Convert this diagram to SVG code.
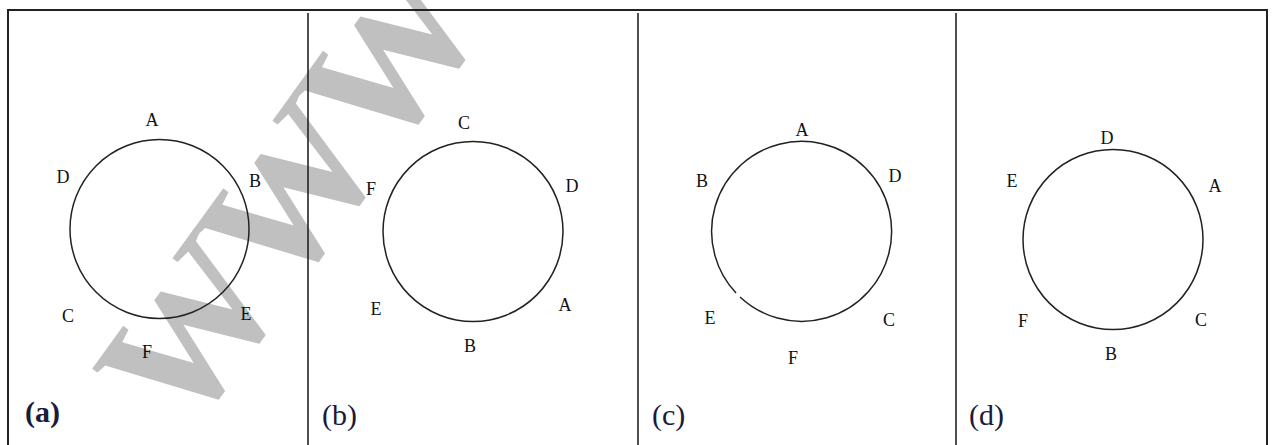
<svg xmlns="http://www.w3.org/2000/svg" width="1275" height="445" viewBox="0 0 1275 445">
<style>
.frame{fill:none;stroke:#222;stroke-width:2}
.div{stroke:#222;stroke-width:1.6}
.ring{fill:none;stroke:#222;stroke-width:1.5}
.lbl{font-family:"Liberation Serif","Times New Roman",serif;font-size:18px;fill:#111;text-anchor:middle}
.pl{font-family:"Liberation Serif","Times New Roman",serif;font-size:30px;fill:#1a1a3a}
.wm{font-family:"Liberation Serif","Times New Roman",serif;font-size:180px;font-weight:bold;letter-spacing:-10px;fill:#c0c0c0}
</style>
<rect width="1275" height="445" fill="#fff"/>
<text class="wm" transform="translate(186,440) rotate(-54)">WWW</text>
<g id="frame">
<path class="frame" d="M8,446 V10 H1267 V446"/>
<line class="div" x1="308" y1="13" x2="308" y2="445"/>
<line class="div" x1="638" y1="13" x2="638" y2="445"/>
<line class="div" x1="956" y1="13" x2="956" y2="445"/>
</g>
<g id="panel-a">
<circle class="ring" cx="159.5" cy="229" r="89.5"/>
<text class="lbl" x="152" y="126">A</text>
<text class="lbl" x="63" y="183">D</text>
<text class="lbl" x="255" y="187">B</text>
<text class="lbl" x="68" y="322">C</text>
<text class="lbl" x="246" y="320">E</text>
<text class="lbl" x="147" y="358">F</text>
<text class="pl" x="25" y="422" font-weight="bold" font-size="28">(a)</text>
</g>
<g id="panel-b">
<circle class="ring" cx="473" cy="231.5" r="90"/>
<text class="lbl" x="464" y="129">C</text>
<text class="lbl" x="371" y="195">F</text>
<text class="lbl" x="572" y="192">D</text>
<text class="lbl" x="376" y="315">E</text>
<text class="lbl" x="565" y="311">A</text>
<text class="lbl" x="470" y="352">B</text>
<text class="pl" x="322" y="425">(b)</text>
</g>
<g id="panel-c">
<path class="ring" d="M740,297 A90,90 0 1 0 736,293"/>
<text class="lbl" x="802" y="136">A</text>
<text class="lbl" x="702" y="187">B</text>
<text class="lbl" x="895" y="182">D</text>
<text class="lbl" x="710" y="324">E</text>
<text class="lbl" x="889" y="326">C</text>
<text class="lbl" x="793" y="364">F</text>
<text class="pl" x="652" y="425">(c)</text>
</g>
<g id="panel-d">
<circle class="ring" cx="1113" cy="239.5" r="90"/>
<text class="lbl" x="1107" y="144">D</text>
<text class="lbl" x="1012" y="187">E</text>
<text class="lbl" x="1215" y="192">A</text>
<text class="lbl" x="1023" y="327">F</text>
<text class="lbl" x="1201" y="326">C</text>
<text class="lbl" x="1111" y="360">B</text>
<text class="pl" x="969" y="425">(d)</text>
</g>
</svg>
